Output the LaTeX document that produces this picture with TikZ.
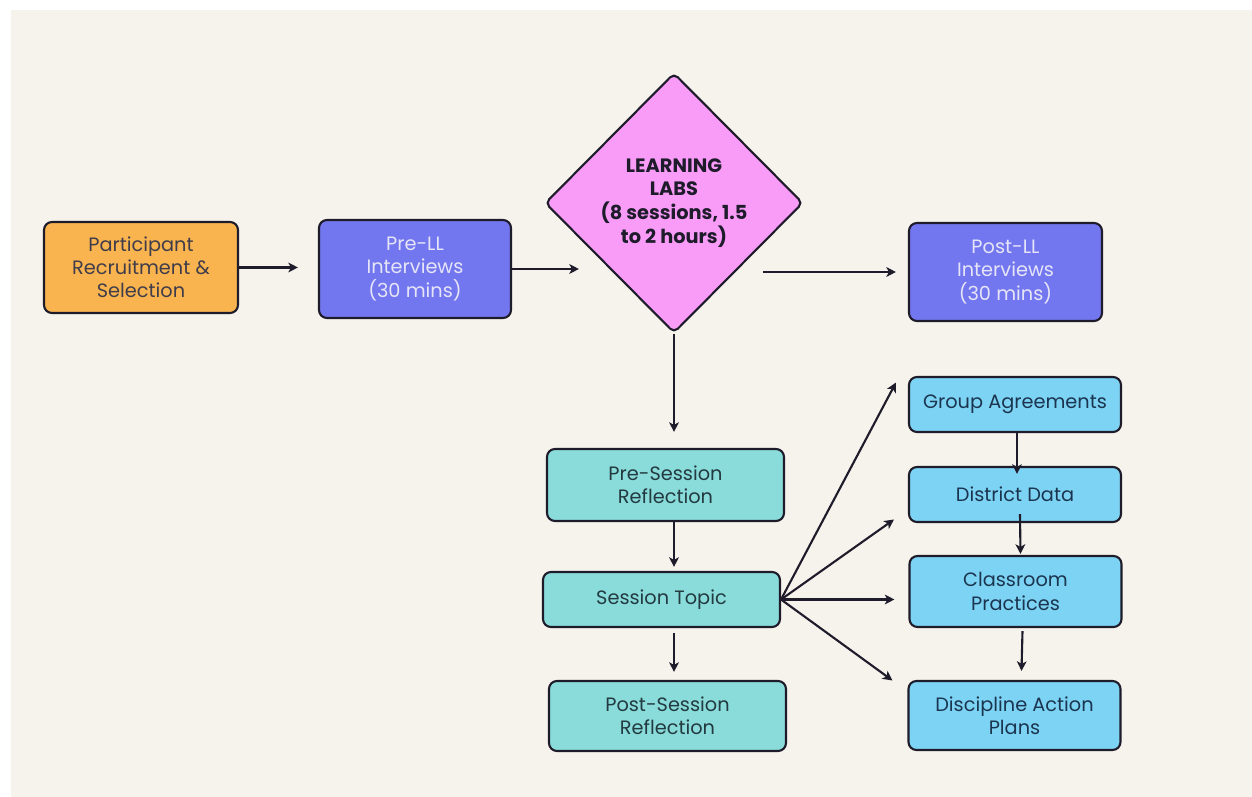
\documentclass[tikz,border=0pt]{standalone}
\usepackage{fontspec}
\setmainfont{Poppins}
\usetikzlibrary{shapes.geometric,arrows.meta,calc}
\definecolor{paper}{HTML}{F6F2EC}
\definecolor{ink}{HTML}{1E1B2A}
\definecolor{orangebox}{HTML}{F9B44F}
\definecolor{violetbox}{HTML}{7377EF}
\definecolor{pinkbox}{HTML}{F89CF8}
\definecolor{tealbox}{HTML}{8ADCDB}
\definecolor{bluebox}{HTML}{7DD3F3}
\definecolor{lighttext}{HTML}{E6E4F7}
\definecolor{tealtext}{HTML}{223A40}
\definecolor{bluetext}{HTML}{1B3550}
\tikzstyle{box}=[draw=ink,line width=1.2pt,rounded corners=4.5pt,align=center,inner sep=2pt,font=\fontsize{11}{13.2}\selectfont]
\tikzstyle{recruit}=[box,fill=orangebox,text=ink!85]
\tikzstyle{interview}=[box,fill=violetbox,text=lighttext]
\tikzstyle{lab}=[draw=ink,line width=1.2pt,diamond,rounded corners=3pt,fill=pinkbox,text=ink,inner sep=0pt,minimum width=5.16cm,minimum height=5.2cm,align=center,font=\fontsize{11}{13.5}\selectfont\bfseries]
\tikzstyle{session}=[box,fill=tealbox,text=tealtext,minimum width=4.74cm]
\tikzstyle{topic}=[box,fill=bluebox,text=bluetext,minimum width=4.24cm]
\tikzstyle{arrow}=[draw=ink,line width=1.2pt,-{Stealth[length=5.5pt,width=5.5pt,inset=1.5pt]}]

\begin{document}
\begin{tikzpicture}[x=0.02cm,y=-0.02cm]
    \useasboundingbox (0,0) rectangle (1252,797);
    \fill[paper] (11,10) rectangle (1252,797);
    % noeuds
    \node[recruit,minimum width=3.88cm,minimum height=1.82cm] (part) at (141,267.5) {Participant\\Recruitment \&\\Selection};
    \node[interview,minimum width=3.84cm,minimum height=1.96cm] (prell) at (415,269) {Pre-LL\\Interviews\\(30 mins)};
    \node[lab] (labs) at (674,203) {LEARNING\\LABS\\(8 sessions, 1.5\\to 2 hours)};
    \node[interview,minimum width=3.86cm,minimum height=1.96cm] (postll) at (1005.5,272) {Post-LL\\Interviews\\(30 mins)};
    \node[session,minimum height=1.44cm] (presess) at (665.5,485) {Pre-Session\\Reflection};
    \node[session,minimum height=1.1cm] (topic) at (661.5,599.5) {Session Topic};
    \node[session,minimum height=1.4cm] (postsess) at (667.5,716) {Post-Session\\Reflection};
    \node[topic,minimum height=1.1cm] (group) at (1015,404.5) {Group Agreements};
    \node[topic,minimum height=1.1cm] (district) at (1015,494.5) {District Data};
    \node[topic,minimum height=1.42cm] (classroom) at (1015.5,591.5) {Classroom\\Practices};
    \node[topic,minimum height=1.38cm] (discipline) at (1014.5,715.5) {Discipline Action\\Plans};
    % fleches
    \draw[arrow,shorten >=0.4cm] (part.east) -- (part.east -| prell.west);
    \draw[arrow,shorten >=-0.7cm] (prell.east) -- (prell.east -| labs.west);
    \draw[arrow,shorten <=-0.82cm,shorten >=0.24cm] (postll.west -| labs.east) -- (postll.west);
    \draw[arrow,shorten >=0.32cm] (labs.south) -- (labs.south |- presess.north);
    \draw[arrow,shorten >=0.08cm] (presess.south -| labs.south) -- (topic.north -| labs.south);
    \draw[arrow,shorten <=0.1cm,shorten >=0.16cm] (topic.south -| labs.south) -- (postsess.north -| labs.south);
    \foreach \dest/\dx/\dy in {group/-12/-22, district/-14/25, classroom/-14/8, discipline/-15/-35}
        \draw[arrow] (topic.east) -- ($(\dest.west)+(\dx,\dy)$);
    \draw[arrow] ($(group.south)+(2,0)$) -- ($(district.north)+(2,8)$);
    \draw[arrow] ($(district.south)+(5,-9)$) -- ($(classroom.north)+(5,-1)$);
    \draw[arrow] ($(classroom.south)+(7,3)$) -- ($(discipline.north)+(7,-9)$);
\end{tikzpicture}
\end{document}
